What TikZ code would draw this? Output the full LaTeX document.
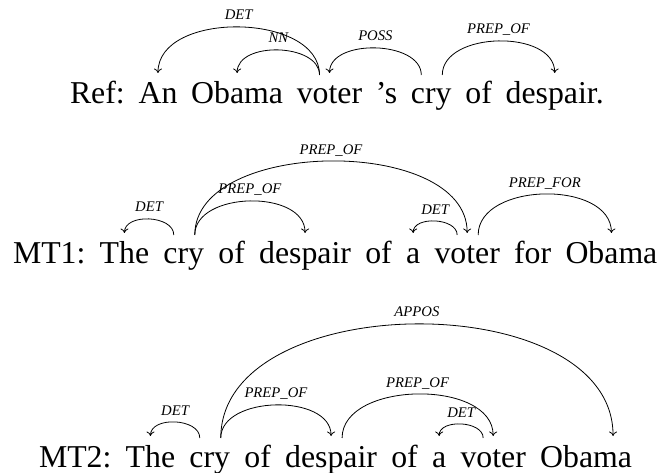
\documentclass[tikz,border=0pt]{standalone}
\usepackage{fontspec}
\setmainfont{Liberation Serif}
\usetikzlibrary{arrows.meta,calc}
\tikzset{
  word/.style={inner sep=0pt, outer sep=0pt, anchor=base west, font=\fontsize{31.8}{36}\selectfont},
  dep/.style={draw, line width=0.8pt, -{To[length=4.5pt,width=8pt]}},
  lab/.style={inner sep=0pt, anchor=base, yshift=7pt, font=\fontsize{14.7}{16}\selectfont\itshape}
}
\newcommand\deparc[4]{%
  \draw[dep] (#1) .. controls ([yshift=#3pt]#1) and ([yshift=#3pt]#2) .. (#2) node[lab,pos=0.5]{#4};}
\begin{document}
\begin{tikzpicture}[x=1pt,y=-1pt]
\useasboundingbox (0,0) rectangle (662,473);
% ---------- Ref line ----------
\def\g{13.8}
\node[word] (r0) at (70,104) {Ref:};
\node[word] (r1) at ($(r0.base east)+(\g,0)$) {An};
\node[word] (r2) at ($(r1.base east)+(\g,0)$) {Obama};
\node[word] (r3) at ($(r2.base east)+(\g,0)$) {voter};
\node[word] (r4) at ($(r3.base east)+(\g,0)$) {’s};
\node[word] (r5) at ($(r4.base east)+(\g,0)$) {cry};
\node[word] (r6) at ($(r5.base east)+(\g,0)$) {of};
\node[word] (r7) at ($(r6.base east)+(\g,0)$) {despair.};
\coordinate (rAnT) at ([yshift=31pt]r1.base);
\coordinate (rObT) at ([yshift=31pt]r2.base);
\coordinate (rvoL) at ([xshift=-10pt,yshift=29pt]r3.base);
\coordinate (rvoT) at ([yshift=31pt]r3.base);
\coordinate (rcrL) at ([xshift=-10pt,yshift=29pt]r5.base);
\coordinate (rcrR) at ([xshift=11pt,yshift=29pt]r5.base);
\coordinate (rdeT) at ([yshift=31pt]r7.base);
\deparc{rvoL}{rAnT}{62.7}{DET}
\deparc{rvoL}{rObT}{32}{NN}
\deparc{rcrL}{rvoT}{34.7}{POSS}
\deparc{rcrR}{rdeT}{44}{PREP\_OF}
% ---------- MT1 line ----------
\def\g{14.3}
\node[word] (a0) at (13,264) {MT1:};
\node[word] (a1) at ($(a0.base east)+(\g,0)$) {The};
\node[word] (a2) at ($(a1.base east)+(\g,0)$) {cry};
\node[word] (a3) at ($(a2.base east)+(\g,0)$) {of};
\node[word] (a4) at ($(a3.base east)+(\g,0)$) {despair};
\node[word] (a5) at ($(a4.base east)+(\g,0)$) {of};
\node[word] (a6) at ($(a5.base east)+(\g,0)$) {a};
\node[word] (a7) at ($(a6.base east)+(\g,0)$) {voter};
\node[word] (a8) at ($(a7.base east)+(\g,0)$) {for};
\node[word] (a9) at ($(a8.base east)+(\g,0)$) {Obama};
\coordinate (aThT) at ([yshift=31pt]a1.base);
\coordinate (acrL) at ([xshift=-10pt,yshift=29pt]a2.base);
\coordinate (acrR) at ([xshift=11pt,yshift=29pt]a2.base);
\coordinate (adeT) at ([yshift=31pt]a4.base);
\coordinate (aaT) at ([yshift=31pt]a6.base);
\coordinate (avoL) at ([xshift=-10pt,yshift=29pt]a7.base);
\coordinate (avoR) at ([xshift=11pt,yshift=29pt]a7.base);
\coordinate (avoT) at ([yshift=31pt]a7.base);
\coordinate (aObT) at ([yshift=31pt]a9.base);
\deparc{acrL}{aThT}{20}{DET}
\deparc{acrR}{adeT}{44}{PREP\_OF}
\deparc{acrR}{avoT}{97.3}{PREP\_OF}
\deparc{avoL}{aaT}{17.3}{DET}
\deparc{avoR}{aObT}{53.3}{PREP\_FOR}
% ---------- MT2 line ----------
\node[word] (b0) at (39,467) {MT2:};
\node[word] (b1) at ($(b0.base east)+(\g,0)$) {The};
\node[word] (b2) at ($(b1.base east)+(\g,0)$) {cry};
\node[word] (b3) at ($(b2.base east)+(\g,0)$) {of};
\node[word] (b4) at ($(b3.base east)+(\g,0)$) {despair};
\node[word] (b5) at ($(b4.base east)+(\g,0)$) {of};
\node[word] (b6) at ($(b5.base east)+(\g,0)$) {a};
\node[word] (b7) at ($(b6.base east)+(\g,0)$) {voter};
\node[word] (b8) at ($(b7.base east)+(\g,0)$) {Obama};
\coordinate (bThT) at ([yshift=31pt]b1.base);
\coordinate (bcrL) at ([xshift=-10pt,yshift=29pt]b2.base);
\coordinate (bcrR) at ([xshift=11pt,yshift=29pt]b2.base);
\coordinate (bdeT) at ([yshift=31pt]b4.base);
\coordinate (bdeR) at ([xshift=11pt,yshift=29pt]b4.base);
\coordinate (baT) at ([yshift=31pt]b6.base);
\coordinate (bvoL) at ([xshift=-10pt,yshift=29pt]b7.base);
\coordinate (bvoT) at ([yshift=31pt]b7.base);
\coordinate (bObT) at ([xshift=27pt,yshift=31pt]b8.base);
\deparc{bcrL}{bThT}{20}{DET}
\deparc{bcrR}{bdeT}{42.7}{PREP\_OF}
\deparc{bcrR}{bObT}{150.7}{APPOS}
\deparc{bdeR}{bvoT}{57.3}{PREP\_OF}
\deparc{bvoL}{baT}{17.3}{DET}
\end{tikzpicture}
\end{document}
